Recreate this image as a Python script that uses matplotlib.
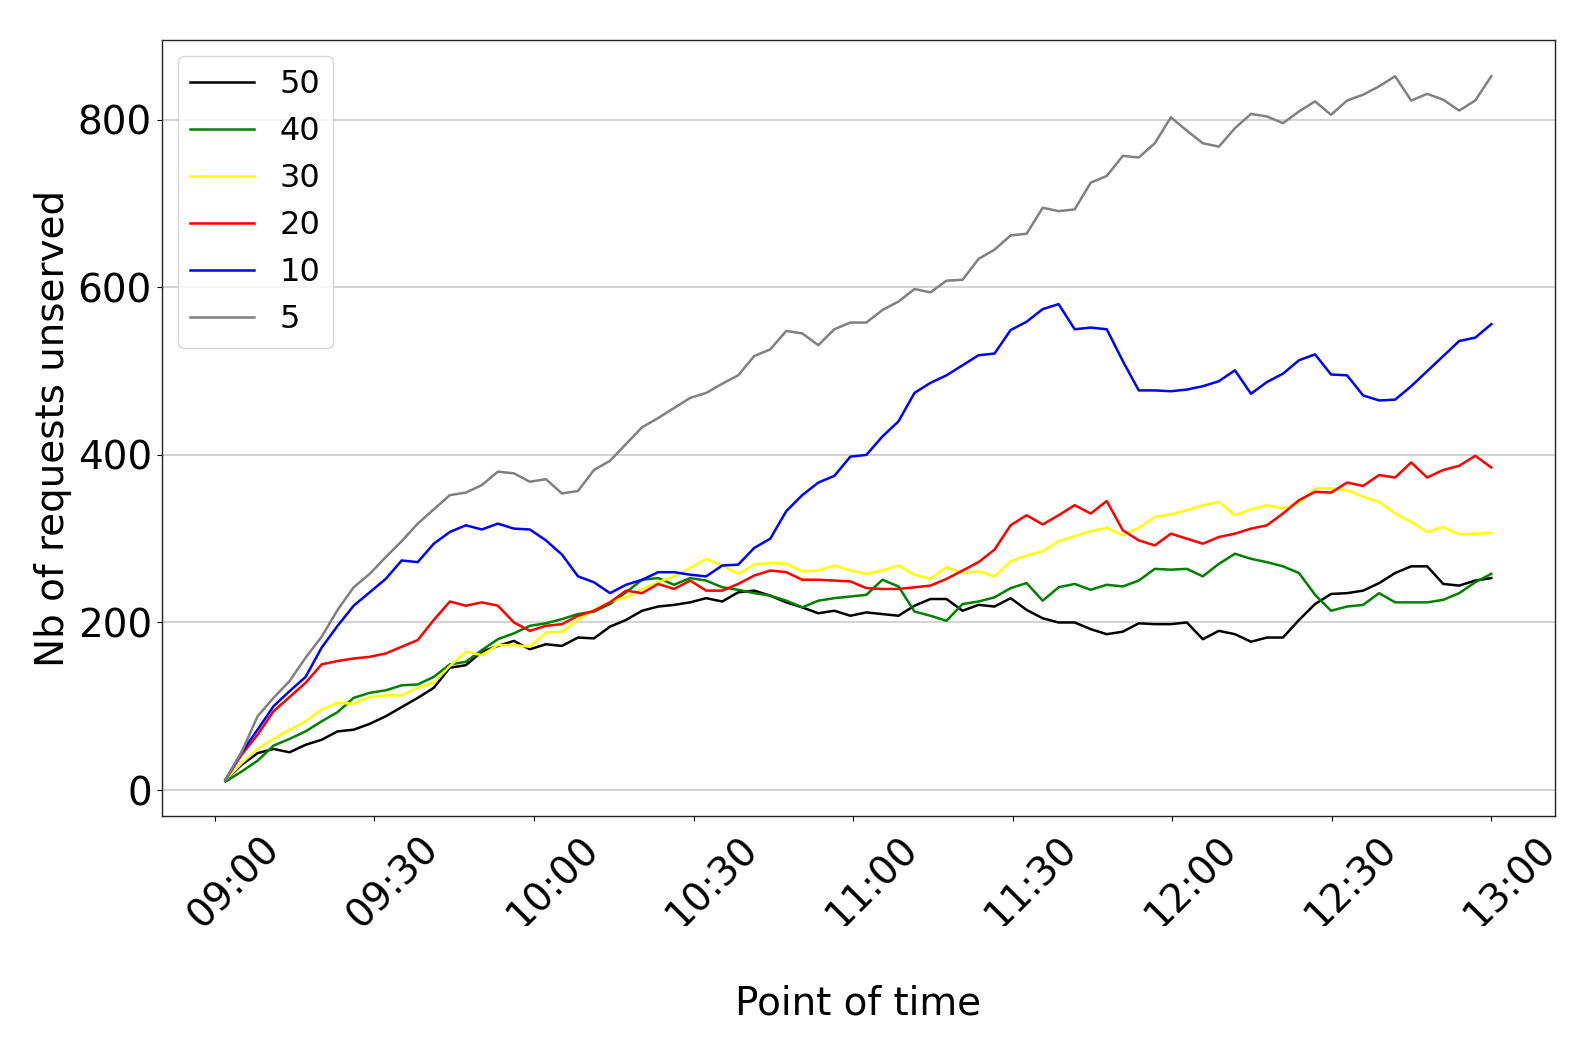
import numpy as np
import matplotlib
matplotlib.use("Agg")
import matplotlib.pyplot as plt
import matplotlib.dates as mdates
from matplotlib.transforms import Bbox, TransformedBbox, ScaledTranslation

# ---- data (one point roughly every 3 min) ----
start_time = "2020-01-01T09:02"
end_minutes = 238          # 09:02 -> 13:00
n_points = 80

labels = ["50", "40", "30", "20", "10", "5"]
colors = ["black", "green", "yellow", "red", "blue", "grey"]

s50 = [12, 30, 44, 49, 45, 54, 60, 70, 72, 79,
       88, 99, 110, 122, 146, 149, 165, 172, 178, 168,
       174, 172, 182, 181, 195, 203, 214, 219, 221, 224,
       229, 225, 236, 238, 232, 224, 218, 211, 214, 208,
       212, 210, 208, 220, 228, 228, 214, 221, 219, 229,
       215, 205, 200, 200, 192, 186, 189, 199, 198, 198,
       200, 180, 190, 186, 177, 182, 182, 203, 222, 234,
       235, 238, 247, 259, 267, 267, 246, 244, 250, 253]

s40 = [10, 22, 35, 53, 61, 70, 82, 93, 110, 116,
       119, 125, 126, 135, 150, 153, 167, 180, 187, 196,
       199, 204, 210, 213, 222, 236, 251, 253, 245, 253,
       250, 242, 239, 235, 232, 226, 218, 226, 229, 231,
       233, 251, 243, 213, 208, 202, 222, 225, 230, 241,
       247, 226, 242, 246, 239, 245, 243, 250, 264, 263,
       264, 255, 270, 282, 276, 272, 267, 259, 233, 214,
       219, 221, 235, 224, 224, 224, 227, 235, 248, 258]

s30 = [12, 32, 49, 61, 72, 82, 96, 104, 103, 111,
       113, 113, 122, 128, 148, 165, 161, 173, 173, 171,
       188, 189, 203, 215, 225, 230, 240, 248, 255, 265,
       276, 268, 258, 269, 271, 270, 261, 262, 268, 262,
       258, 262, 268, 257, 252, 266, 259, 261, 255, 273,
       280, 285, 297, 303, 309, 313, 304, 313, 326, 329,
       334, 340, 344, 328, 335, 340, 336, 343, 360, 360,
       358, 350, 344, 330, 320, 308, 314, 305, 306, 307]

s20 = [12, 42, 66, 94, 111, 128, 150, 154, 157, 159,
       163, 171, 179, 203, 225, 220, 224, 220, 200, 190,
       196, 198, 208, 214, 224, 238, 235, 246, 240, 250,
       238, 238, 246, 256, 262, 260, 251, 251, 250, 249,
       241, 240, 240, 242, 244, 252, 262, 272, 287, 316,
       328, 317, 328, 340, 330, 345, 310, 298, 292, 306,
       300, 294, 302, 306, 312, 316, 330, 346, 356, 355,
       367, 363, 376, 373, 391, 373, 382, 387, 399, 385]

s10 = [12, 45, 72, 100, 118, 135, 170, 196, 220, 236,
       252, 274, 272, 294, 308, 316, 311, 318, 312, 311,
       298, 281, 255, 248, 235, 245, 251, 260, 260, 257,
       255, 268, 269, 289, 300, 333, 352, 367, 375, 398,
       400, 422, 440, 474, 486, 495, 507, 519, 521, 549,
       559, 574, 580, 550, 552, 550, 512, 477, 477, 476,
       478, 482, 488, 501, 473, 487, 497, 513, 520, 496,
       495, 471, 465, 466, 482, 500, 518, 536, 540, 556]

s5 = [12, 45, 88, 110, 130, 158, 183, 215, 242, 258,
      278, 297, 318, 335, 352, 355, 364, 380, 378, 368,
      371, 354, 357, 382, 393, 413, 433, 444, 456, 468,
      474, 485, 495, 518, 526, 548, 545, 531, 550, 558,
      558, 573, 583, 598, 594, 608, 609, 634, 645, 662,
      664, 695, 691, 693, 725, 733, 757, 755, 772, 803,
      787, 772, 768, 790, 807, 804, 796, 810, 822, 806,
      823, 830, 840, 852, 823, 831, 824, 811, 823, 852]

series = [s50, s40, s30, s20, s10, s5]

yticks = [0, 200, 400, 600, 800]
xlabel = "Point of time"
ylabel = "Nb of requests unserved"

# ---- figure ----
fig = plt.figure(figsize=(15.74, 10.42), dpi=100)
ax = fig.add_axes([0.1027, 0.2169, 0.8853, 0.7445])

offsets = np.round(np.linspace(0, end_minutes, n_points) * 60).astype("timedelta64[s]")
times = np.datetime64(start_time) + offsets

for vals, lab, col in zip(series, labels, colors):
    ax.plot(times, vals, color=col, lw=1.8, label=lab)

ax.set_xlim(np.datetime64("2020-01-01T08:50"), np.datetime64("2020-01-01T13:12"))
ax.set_ylim(-31, 895)
ax.set_yticks(yticks)
ax.xaxis.set_major_locator(mdates.MinuteLocator(byminute=[0, 30]))
ax.xaxis.set_major_formatter(mdates.DateFormatter("%H:%M"))

ax.yaxis.grid(True, color="#c8c8c8", lw=1.1)
ax.set_axisbelow(True)
ax.tick_params(axis="both", labelsize=28)
ax.tick_params(axis="x", labelrotation=45)
for sp in ax.spines.values():
    sp.set_linewidth(1.0)
    sp.set_color("#222222")

ax.set_ylabel(ylabel, fontsize=28)
ax.set_xlabel(xlabel, fontsize=28)
ax.xaxis.label.set_va("baseline")
ax.xaxis.set_label_coords(0.5, -0.2565)

leg = ax.legend(loc="upper left", fontsize=23)

# tick labels sit a little right/down of their ticks and are cut off at the bottom
fig.canvas.draw()
clip = TransformedBbox(Bbox([[0, 0.1115], [1, 1]]), fig.transFigure)
shift = ScaledTranslation(0.19, -0.03, fig.dpi_scale_trans)
for lab in ax.get_xticklabels():
    lab.set_transform(lab.get_transform() + shift)
    lab.set_clip_box(clip)
    lab.set_clip_on(True)

fig.savefig("out.png", dpi=100)
